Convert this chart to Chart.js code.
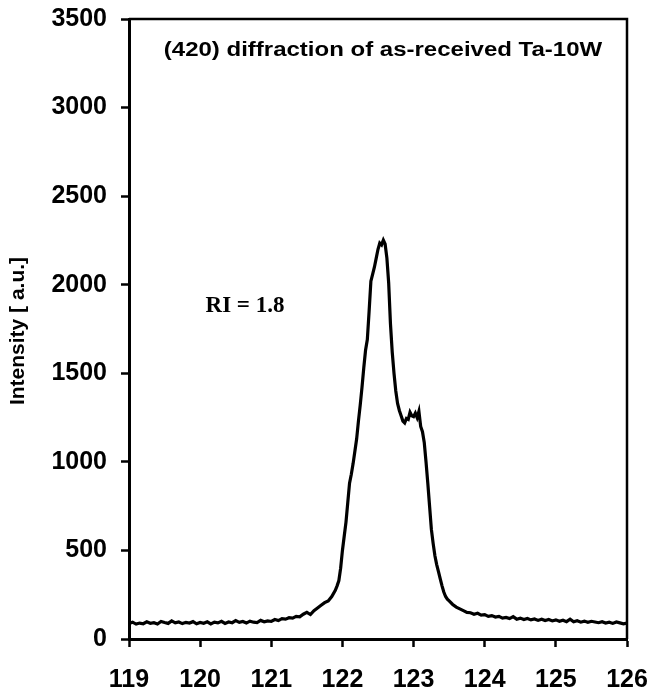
<!DOCTYPE html>
<html lang="en">
<head>
  <meta charset="UTF-8">
  <title>(420) diffraction of as-received Ta-10W</title>
  <script src="https://cdn.jsdelivr.net/npm/chart.js"></script>
  <style>
    body { margin: 0; background: #fff; }
    #wrap { width: 652px; height: 696px; }
  </style>
</head>
<body>
  <div id="wrap"><canvas id="xrd" width="652" height="696"></canvas></div>

  <script>
    // 2-theta grid: coarse on the background, finer across the peak
    function grid(from, to, step) {
      const out = [];
      const n = Math.round((to - from) / step);
      for (let i = 0; i <= n; i++) out.push(+(from + i * step).toFixed(3));
      return out;
    }
    const thetaLow = grid(119, 121.85, 0.05);
    const thetaPeak = grid(121.9, 123.5, 0.025);
    const thetaHigh = grid(123.55, 126, 0.05);

    // intensities
    const intensityLow = [
      88, 95, 84, 90, 86, 97, 89, 92, 85, 99, 93, 88, 102, 91, 96, 87, 94, 90, 98, 86,
      93, 89, 97, 85, 95, 91, 100, 88, 96, 92, 104, 94, 99, 90, 101, 95, 93, 105, 97, 102,
      99, 110, 104, 115, 112, 120, 118, 128, 125, 140, 150, 138, 160, 175, 190, 205, 215, 240
    ];
    const intensityPeak = [
      275, 300, 330, 400, 500, 580, 660, 770, 880, 930, 990, 1060, 1130, 1230, 1320, 1420,
      1530, 1630, 1690, 1850, 2020, 2060, 2100, 2150, 2200, 2235, 2225, 2252, 2230, 2150,
      2010, 1780, 1620, 1500, 1400, 1330, 1290, 1260, 1230, 1220, 1245, 1240, 1280, 1260,
      1255, 1275, 1250, 1285, 1200, 1170, 1110, 1000, 880, 750, 620, 540, 470, 420, 380,
      340, 300, 265, 240, 225, 215
    ];
    const intensityHigh = [
      195, 180, 170, 160, 150, 148, 140, 145, 135,
      138, 128, 132, 124, 128, 118, 122, 115, 126, 112, 118, 110, 116, 108, 113, 105, 112, 104, 110, 102,
      108, 100, 106, 98, 112, 97, 103, 95, 101, 94, 100, 96, 92, 98, 90, 95, 88, 96, 91, 86,
      90
    ];

    const xTicks = [119, 120, 121, 122, 123, 124, 125, 126];
    const yTicks = [0, 500, 1000, 1500, 2000, 2500, 3000, 3500];

    const chartTitle = '(420) diffraction of as-received Ta-10W';
    const yTitle = 'Intensity [ a.u.]';
    const riLabel = 'RI = 1.8';

    const theta = thetaLow.concat(thetaPeak, thetaHigh);
    const intensity = intensityLow.concat(intensityPeak, intensityHigh);
    const points = theta.map((t, i) => ({ x: t, y: intensity[i] }));

    const tickFont = { family: '"Liberation Sans", Arial, sans-serif', size: 25, weight: 'bold' };

    // frame on top/right + the free texts
    const extras = {
      id: 'extras',
      afterDraw(chart) {
        const { ctx, chartArea: a } = chart;
        ctx.save();
        ctx.strokeStyle = '#000';
        ctx.lineWidth = 2.5;
        ctx.beginPath();
        ctx.moveTo(a.left, a.top);
        ctx.lineTo(a.right, a.top);
        ctx.lineTo(a.right, a.bottom);
        ctx.stroke();

        ctx.fillStyle = '#000';
        ctx.textAlign = 'center';
        ctx.textBaseline = 'middle';

        ctx.save();
        ctx.translate(383, 50);
        ctx.scale(1.2, 1);
        ctx.font = 'bold 20px "Liberation Sans", Arial, sans-serif';
        ctx.fillText(chartTitle, 0, 0);
        ctx.restore();

        ctx.save();
        ctx.translate(18, 331);
        ctx.rotate(-Math.PI / 2);
        ctx.font = 'bold 21px "Liberation Sans", Arial, sans-serif';
        ctx.fillText(yTitle, 0, 0);
        ctx.restore();

        ctx.font = 'bold 23px "Liberation Serif", "Times New Roman", serif';
        ctx.fillText(riLabel, 245, 306);
        ctx.restore();
      }
    };

    new Chart(document.getElementById('xrd'), {
      type: 'scatter',
      data: {
        datasets: [{
          data: points,
          showLine: true,
          borderColor: '#000',
          borderWidth: 3.2,
          pointRadius: 0,
          tension: 0
        }]
      },
      options: {
        responsive: false,
        animation: false,
        layout: { padding: { left: 0, right: 25, top: 19, bottom: 0 } },
        plugins: { legend: { display: false }, tooltip: { enabled: false } },
        scales: {
          x: {
            type: 'linear',
            min: xTicks[0],
            max: xTicks[xTicks.length - 1],
            afterBuildTicks: s => { s.ticks = xTicks.map(v => ({ value: v })); },
            afterFit: s => { s.height = 57; s.paddingLeft = 0; s.paddingRight = 0; },
            ticks: { color: '#000', font: tickFont, padding: 18, maxRotation: 0, callback: v => String(v) },
            grid: { drawOnChartArea: false, drawTicks: true, tickLength: 8, tickColor: '#000', tickWidth: 2.5 },
            border: { color: '#000', width: 3 }
          },
          y: {
            min: yTicks[0],
            max: yTicks[yTicks.length - 1],
            afterBuildTicks: s => { s.ticks = yTicks.map(v => ({ value: v })); },
            afterFit: s => { s.width = 129; s.paddingTop = 0; s.paddingBottom = 0; },
            ticks: { color: '#000', font: tickFont, padding: 14, callback: v => String(v) },
            grid: { drawOnChartArea: false, drawTicks: true, tickLength: 8, tickColor: '#000', tickWidth: 2.5 },
            border: { color: '#000', width: 3 }
          }
        }
      },
      plugins: [extras]
    });
  </script>
</body>
</html>
